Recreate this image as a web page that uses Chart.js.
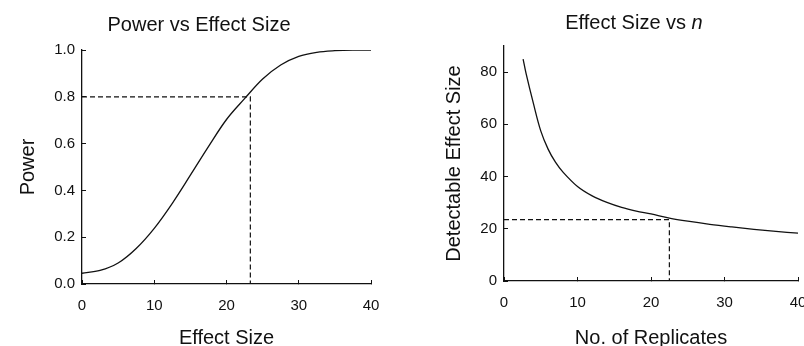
<!DOCTYPE html>
<html>
<head>
<meta charset="utf-8">
<script src="https://cdn.jsdelivr.net/npm/chart.js@4.4.1/dist/chart.umd.min.js"></script>
<style>
  body { margin: 0; background: #fff; overflow: hidden; }
  #wrap { position: relative; width: 804px; height: 346px; }
  canvas { position: absolute; top: 0; }
</style>
</head>
<body>
<div id="wrap">
  <canvas id="powerChart" width="400" height="346" style="left:0"></canvas>
  <canvas id="nChart" width="404" height="346" style="left:400px"></canvas>
</div>
<script>
// left panel: power curve
const effectSize = [0, 2.5, 5, 7.5, 10, 12.5, 15, 17.5, 20, 22.5, 25, 27.5, 30, 32.5, 35, 37.5, 40];
const power = [0.046, 0.058, 0.09, 0.152, 0.238, 0.345, 0.465, 0.587, 0.703, 0.792, 0.876, 0.936, 0.973, 0.99, 0.997, 1.0, 1.0];
const powerGuideX = [0, 23.3, 23.3];
const powerGuideY = [0.8, 0.8, 0];

// right panel: detectable effect size vs number of replicates
const replicates = [2.6, 3, 4, 5, 6, 7, 8, 10, 12, 14, 16, 18, 20, 22.5, 25, 28, 31, 34, 37, 40];
const detectable = [85, 79.5, 68, 57.5, 50.5, 45.5, 41.8, 36.2, 32.6, 30.1, 28.2, 26.8, 25.7, 24.1, 22.9, 21.7, 20.7, 19.8, 19.0, 18.3];
const nGuideX = [0, 22.5, 22.5];
const nGuideY = [23.5, 23.5, 0];

const xTicks = [0, 10, 20, 30, 40];
const powerTicks = [0, 0.2, 0.4, 0.6, 0.8, 1.0];
const detectTicks = [0, 20, 40, 60, 80];

const FONT = "'Liberation Sans', Arial, Helvetica, sans-serif";
const INK = '#111';

function pts(xs, ys) {
  return xs.map((x, i) => ({ x: x, y: ys[i] }));
}

// title drawn by hand so part of it can be italic
const titlePlugin = {
  id: 'segTitle',
  afterDraw(chart, args, opts) {
    const ctx = chart.ctx;
    ctx.save();
    ctx.fillStyle = INK;
    ctx.textBaseline = 'alphabetic';
    ctx.textAlign = 'left';
    let total = 0;
    opts.parts.forEach(p => {
      ctx.font = p.style + ' 20px ' + FONT;
      p.w = ctx.measureText(p.text).width;
      total += p.w;
    });
    let x = opts.cx - total / 2;
    opts.parts.forEach(p => {
      ctx.font = p.style + ' 20px ' + FONT;
      ctx.fillText(p.text, x, opts.y);
      x += p.w;
    });
    ctx.restore();
  }
};

function axisCommon() {
  return {
    type: 'linear',
    border: { display: true, color: INK, width: 1.3 },
    grid: { display: true, drawOnChartArea: false, drawTicks: true, tickLength: -4, color: INK, lineWidth: 1 },
  };
}

function makeChart(id, cfg) {
  const x = axisCommon();
  Object.assign(x, {
    min: 0, max: 40,
    afterBuildTicks: s => { s.ticks = xTicks.map(v => ({ value: v })); },
    afterFit: s => { s.height = cfg.xHeight; s.paddingRight = 0; s.paddingLeft = 0; },
    ticks: { color: INK, font: { family: FONT, size: 15 }, padding: 17, maxRotation: 0 },
    title: { display: true, text: cfg.xTitle, color: INK, font: { family: FONT, size: 20 }, padding: { top: 0, bottom: -4 } }
  });
  const y = axisCommon();
  Object.assign(y, {
    min: cfg.yMin, max: cfg.yMax,
    afterBuildTicks: s => { s.ticks = cfg.yTicks.map(v => ({ value: v })); },
    afterFit: s => { s.width = cfg.yWidth; s.paddingTop = 0; s.paddingBottom = 0; },
    ticks: { color: INK, font: { family: FONT, size: 15 }, padding: 11, callback: cfg.yFmt },
    title: { display: true, text: cfg.yTitle, color: INK, font: { family: FONT, size: 20 }, padding: { top: cfg.yTitlePad, bottom: 0 } }
  });

  return new Chart(document.getElementById(id), {
    type: 'line',
    data: {
      datasets: [
        {
          data: pts(cfg.xs, cfg.ys),
          borderColor: INK,
          borderWidth: 1.3,
          pointRadius: 0,
          tension: 0.35,
          fill: false
        },
        {
          data: pts(cfg.gx, cfg.gy),
          borderColor: INK,
          borderWidth: 1.2,
          borderDash: [5, 3],
          pointRadius: 0,
          tension: 0,
          fill: false
        }
      ]
    },
    options: {
      responsive: false,
      animation: false,
      layout: { padding: cfg.pad },
      plugins: {
        legend: { display: false },
        tooltip: { enabled: false },
        segTitle: cfg.title
      },
      scales: { x: x, y: y }
    },
    plugins: [titlePlugin]
  });
}

makeChart('powerChart', {
  xs: effectSize, ys: power, gx: powerGuideX, gy: powerGuideY,
  yMin: 0, yMax: 1, yTicks: powerTicks, yFmt: v => v.toFixed(1),
  xTitle: 'Effect Size', yTitle: 'Power', yTitlePad: 16.5,
  xHeight: 62, yWidth: 82,
  pad: { top: 50, right: 29, left: 0, bottom: 0 },
  title: { cx: 199, y: 31, parts: [{ text: 'Power vs Effect Size', style: 'normal' }] }
});

makeChart('nChart', {
  xs: replicates, ys: detectable, gx: nGuideX, gy: nGuideY,
  yMin: 0, yMax: 90, yTicks: detectTicks, yFmt: v => String(v),
  xTitle: 'No. of Replicates', yTitle: 'Detectable Effect Size', yTitlePad: 42,
  xHeight: 65, yWidth: 104,
  pad: { top: 46, right: 6, left: 0, bottom: 0 },
  title: { cx: 234, y: 29, parts: [{ text: 'Effect Size vs ', style: 'normal' }, { text: 'n', style: 'italic' }] }
});
</script>
</body>
</html>
